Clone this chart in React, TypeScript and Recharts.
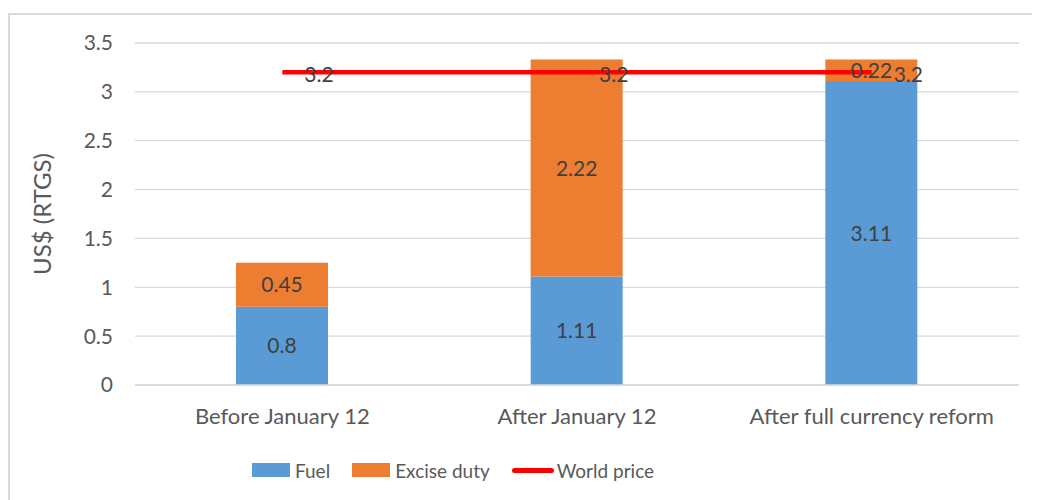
import { ComposedChart, Bar, Line, XAxis, YAxis, CartesianGrid, LabelList } from 'recharts';

// values
const categories = ['Before January 12', 'After January 12', 'After full currency reform'];
const fuel = [0.8, 1.11, 3.11];
const exciseDuty = [0.45, 2.22, 0.22];
const worldPrice = [3.2, 3.2, 3.2];
const yTicks = [0, 0.5, 1, 1.5, 2, 2.5, 3, 3.5];

const data = categories.map((name, i) => ({
  name,
  fuel: fuel[i],
  excise: exciseDuty[i],
  world: worldPrice[i],
}));

const FONT = 'Lato, "Noto Sans", sans-serif';
const AXIS_TEXT = '#595959';
const LABEL_TEXT = '#404040';
const BLUE = '#5B9BD5';
const ORANGE = '#ED7D31';
const RED = '#FF0000';

const YLabel = (props: any) => {
  const vb = props.viewBox || { x: 0, y: 0, width: 0, height: 0 };
  const x = 33;
  const y = vb.y + vb.height / 2;
  return (
    <text
      x={x}
      y={y}
      transform={`rotate(-90, ${x}, ${y})`}
      textAnchor="middle"
      dominantBaseline="central"
      fill={AXIS_TEXT}
      fontSize={24}
      fontFamily={FONT}
    >
      US$ (RTGS)
    </text>
  );
};

// "right" positioned label like the excel line labels
const RightLabel = (props: any) => {
  const { x, y, value } = props;
  return (
    <text
      x={x + 22}
      y={y + 1}
      dominantBaseline="central"
      fill={LABEL_TEXT}
      fontSize={21}
      fontFamily={FONT}
    >
      {value}
    </text>
  );
};

const legendItems = [
  { label: 'Fuel', color: BLUE, kind: 'box' },
  { label: 'Excise duty', color: ORANGE, kind: 'box' },
  { label: 'World price', color: RED, kind: 'line' },
];

export default function App() {
  return (
    <div style={{ position: 'relative', width: 1032, height: 492, overflow: 'hidden', fontFamily: FONT }}>
      {/* outer chart frame */}
      <div
        style={{
          position: 'absolute',
          left: 0,
          top: 5,
          width: 1040,
          height: 500,
          borderTop: '2px solid #d9d9d9',
          borderLeft: '2px solid #d9d9d9',
          boxSizing: 'border-box',
        }}
      />
      <div style={{ position: 'absolute', left: 0, top: 0 }}>
        <ComposedChart
          width={1032}
          height={492}
          data={data}
          margin={{ top: 35, right: 21, bottom: 75, left: 0 }}
          barSize={92}
        >
          <CartesianGrid vertical={false} stroke="#d9d9d9" strokeWidth={1.3} />
          <XAxis
            dataKey="name"
            axisLine={{ stroke: '#d9d9d9', strokeWidth: 1.3 }}
            tickLine={false}
            height={40}
            tickMargin={17}
            tick={{ fill: AXIS_TEXT, fontSize: 22, fontFamily: FONT }}
          />
          <YAxis
            width={127}
            domain={[0, 3.5]}
            ticks={yTicks}
            axisLine={false}
            tickLine={false}
            tickMargin={16}
            tick={{ fill: AXIS_TEXT, fontSize: 21, fontFamily: FONT }}
            label={<YLabel />}
          />
          <Bar dataKey="fuel" stackId="a" fill={BLUE} isAnimationActive={false}>
            <LabelList dataKey="fuel" position="center" fill={LABEL_TEXT} fontSize={21} fontFamily={FONT} />
          </Bar>
          <Bar dataKey="excise" stackId="a" fill={ORANGE} isAnimationActive={false}>
            <LabelList dataKey="excise" position="center" fill={LABEL_TEXT} fontSize={21} fontFamily={FONT} />
          </Bar>
          <Line
            type="linear"
            dataKey="world"
            stroke={RED}
            strokeWidth={4.5}
            dot={false}
            activeDot={false}
            isAnimationActive={false}
          >
            <LabelList dataKey="world" content={<RightLabel />} />
          </Line>
        </ComposedChart>
      </div>
      {/* legend */}
      <div
        style={{
          position: 'absolute',
          left: 244,
          top: 450,
          height: 24,
          display: 'flex',
          alignItems: 'center',
          whiteSpace: 'nowrap',
        }}
      >
        {legendItems.map((it) => (
          <div key={it.label} style={{ display: 'flex', alignItems: 'center', marginRight: 22 }}>
            {it.kind === 'box' ? (
              <div style={{ width: 38, height: 14, background: it.color, marginRight: 5 }} />
            ) : (
              <div style={{ width: 42, height: 5, borderRadius: 3, background: it.color, marginRight: 3 }} />
            )}
            <span style={{ fontSize: 19, color: AXIS_TEXT }}>{it.label}</span>
          </div>
        ))}
      </div>
    </div>
  );
}
